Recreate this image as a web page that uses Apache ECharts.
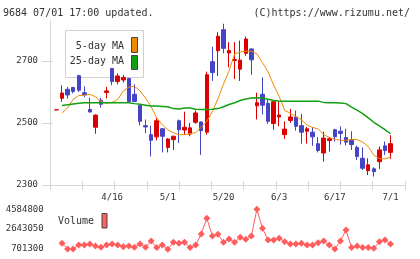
<!DOCTYPE html>
<html lang="ja">
<head>
<meta charset="UTF-8" />
<title>9684</title>
<script src="https://cdn.jsdelivr.net/npm/echarts@6/dist/echarts.min.js"></script>
<style>
  html, body { margin: 0; padding: 0; background: #fff; }
  #main { width: 420px; height: 259px; }
</style>
</head>
<body>
<div id="main"></div>
<script>
// x軸ラベル (61営業日, 空文字はラベルなし)
const dayLabels = [
  "", "", "", "", "", "", "", "", "", "",
  "4/16", "", "", "", "", "", "", "", "", "",
  "5/1", "", "", "", "", "", "", "", "", "",
  "5/20", "", "", "", "", "", "", "", "", "",
  "6/3", "", "", "", "", "", "", "", "", "",
  "6/17", "", "", "", "", "", "", "", "", "",
  "7/1"
];
// [open, close, low, high]
const ohlc = [
  [2542, 2542, 2542, 2542], [2579, 2596, 2568, 2621], [2608, 2590, 2578, 2616], [2614, 2601, 2595, 2616],
  [2652, 2605, 2600, 2655], [2597, 2590, 2583, 2618], [2543, 2535, 2534, 2581], [2486, 2525, 2465, 2527],
  [2573, 2560, 2549, 2581], [2598, 2603, 2579, 2616], [2675, 2633, 2621, 2677], [2633, 2651, 2624, 2659],
  [2638, 2646, 2630, 2654], [2643, 2568, 2567, 2645], [2592, 2569, 2568, 2624], [2556, 2505, 2492, 2557],
  [2491, 2487, 2467, 2511], [2462, 2444, 2392, 2491], [2455, 2507, 2444, 2516], [2481, 2457, 2405, 2483],
  [2421, 2448, 2405, 2451], [2446, 2457, 2413, 2459], [2507, 2478, 2435, 2511], [2477, 2486, 2462, 2536],
  [2464, 2484, 2457, 2500], [2502, 2532, 2497, 2540], [2503, 2475, 2397, 2505], [2470, 2655, 2462, 2665],
  [2697, 2662, 2635, 2745], [2732, 2779, 2651, 2792], [2800, 2740, 2724, 2819], [2725, 2733, 2679, 2760],
  [2701, 2704, 2641, 2760], [2673, 2702, 2635, 2765], [2724, 2770, 2716, 2778], [2738, 2703, 2655, 2740],
  [2555, 2565, 2511, 2597], [2592, 2557, 2527, 2646], [2563, 2505, 2497, 2576], [2498, 2568, 2478, 2572],
  [2519, 2525, 2489, 2568], [2462, 2480, 2448, 2505], [2508, 2519, 2500, 2545], [2519, 2489, 2475, 2540],
  [2491, 2470, 2433, 2529], [2473, 2481, 2433, 2487], [2470, 2455, 2426, 2487], [2433, 2411, 2405, 2454],
  [2403, 2451, 2375, 2472], [2443, 2449, 2408, 2454], [2478, 2455, 2440, 2481], [2473, 2466, 2430, 2489],
  [2453, 2438, 2427, 2481], [2444, 2430, 2413, 2473], [2421, 2392, 2381, 2427], [2386, 2354, 2348, 2421],
  [2346, 2365, 2332, 2386], [2352, 2343, 2327, 2357], [2375, 2413, 2352, 2424], [2426, 2411, 2397, 2440],
  [2405, 2433, 2384, 2460]
];
// 5日移動平均
const ma5 = [
  null, 2532, 2548, 2576, 2588, 2589, 2592, 2584, 2569, 2563,
  2566, 2575, 2603, 2615, 2618, 2603, 2580, 2552, 2516, 2494,
  2478, 2468, 2462, 2462, 2465, 2469, 2486, 2505, 2536, 2578,
  2625, 2668, 2722, 2728, 2731, 2731, 2722, 2694, 2664, 2622,
  2585, 2540, 2531, 2520, 2510, 2493, 2485, 2481, 2462, 2453,
  2447, 2444, 2444, 2447, 2446, 2438, 2424, 2396, 2385, 2384,
  2390
];
// 25日移動平均
const ma25 = [
  null, 2556, 2558, 2561, 2563, 2565, 2565, 2565, 2565, 2565,
  2565, 2565, 2565, 2565, 2562, 2560, 2557, 2554, 2554, 2553,
  2552, 2546, 2545, 2548, 2548, 2544, 2543, 2543, 2544, 2546,
  2552, 2559, 2565, 2572, 2577, 2580, 2581, 2580, 2576, 2572,
  2570, 2570, 2570, 2570, 2570, 2570, 2570, 2570, 2566, 2565,
  2565, 2564, 2562, 2551, 2541, 2530, 2516, 2502, 2490, 2478,
  2465
];
// 出来高
const volume = [
  null, 1260000, 700000, 700000, 1090000, 1090000, 1190000, 990000, 870000, 1090000,
  1190000, 1090000, 930000, 990000, 870000, 1190000, 870000, 1480000, 840000, 1090000,
  670000, 1360000, 1260000, 1360000, 840000, 1090000, 2170000, 3700000, 1970000, 2140000,
  1360000, 1680000, 1360000, 1840000, 1650000, 1970000, 4584800, 2730000, 1580000, 1580000,
  1750000, 1420000, 1190000, 1190000, 1260000, 1090000, 1090000, 1320000, 1480000, 1090000,
  700000, 1480000, 2560000, 840000, 990000, 840000, 840000, 770000, 1420000, 1580000,
  1190000
];
const priceTicks = [2300, 2500, 2700];
const volumeTicks = [701300, 2643050, 4584800];

const mono = '"DejaVu Sans Mono", monospace';
const gray = "#d6d6d6";
const upColor = "#dd0000";
const downColor = "#4444c4";
const plain = function (v) { return String(v); };

var myChart = echarts.init(document.getElementById("main"));
var option = {
  animation: false,
  grid: [
    { left: 50, right: 15, top: 21, bottom: 74 },        // 枠
    { left: 53.7, right: 26.7, top: 21, bottom: 74 },    // ローソク足
    { left: 53.7, right: 26.7, top: 209.3, bottom: 10 }, // 出来高
    { left: 50, right: 15, top: 21, bottom: 74 }         // 内向きの目盛り
  ],
  xAxis: [
    {
      gridIndex: 0, type: "value", min: 0, max: 11, interval: 1,
      axisLine: { lineStyle: { color: gray } },
      axisTick: { length: 5, lineStyle: { color: gray } },
      axisLabel: { show: false }, splitLine: { show: false }
    },
    {
      gridIndex: 1, type: "category", data: dayLabels,
      axisLine: { show: false }, axisTick: { show: false },
      axisLabel: { interval: 0, fontFamily: mono, fontSize: 9, color: "#333", margin: 8 }
    },
    { gridIndex: 2, type: "category", data: dayLabels, show: false },
    {
      gridIndex: 3, type: "value", min: 0, max: 11, interval: 1,
      axisLine: { show: false },
      axisTick: { inside: true, length: 4, lineStyle: { color: gray } },
      axisLabel: { show: false }, splitLine: { show: false }
    }
  ],
  yAxis: [
    {
      gridIndex: 0, type: "value", min: 2300, max: 2828,
      axisLine: { show: true, lineStyle: { color: gray } },
      axisTick: { show: true, length: 8, customValues: priceTicks, lineStyle: { color: gray } },
      axisLabel: { customValues: priceTicks, formatter: plain, fontFamily: mono, fontSize: 9, color: "#333", margin: 12 },
      splitLine: { show: false }
    },
    { gridIndex: 1, type: "value", min: 2300, max: 2828, show: false },
    {
      gridIndex: 2, type: "value", min: 701300, max: 4584800,
      axisLine: { show: false }, axisTick: { show: false }, splitLine: { show: false },
      axisLabel: { customValues: volumeTicks, formatter: plain, fontFamily: mono, fontSize: 9, color: "#333", margin: 10 }
    },
    {
      gridIndex: 3, type: "value", min: 2300, max: 2828,
      axisLine: { show: false },
      axisTick: { show: true, inside: true, length: 3, customValues: priceTicks, lineStyle: { color: gray } },
      axisLabel: { show: false }, splitLine: { show: false }
    }
  ],
  series: [
    {
      type: "candlestick", xAxisIndex: 1, yAxisIndex: 1, data: ohlc, barWidth: 4,
      itemStyle: {
        color: upColor, color0: downColor,
        borderColor: upColor, borderColor0: downColor, borderWidth: 1
      }
    },
    {
      type: "line", xAxisIndex: 1, yAxisIndex: 1, data: ma5, showSymbol: false,
      lineStyle: { color: "#f08a00", width: 1 }, z: 3
    },
    {
      type: "line", xAxisIndex: 1, yAxisIndex: 1, data: ma25, showSymbol: false,
      lineStyle: { color: "#12a012", width: 1.5 }, z: 3
    },
    {
      type: "line", xAxisIndex: 2, yAxisIndex: 2, data: volume, clip: false,
      symbol: "diamond", symbolSize: 7, showAllSymbol: true,
      itemStyle: { color: "#ff5c5c" }, lineStyle: { color: "#ff5c5c", width: 1 }
    }
  ],
  graphic: [
    { type: "text", x: 3, y: 13, style: { text: "9684 07/01 17:00 updated.", font: "10px " + mono, fill: "#333", textVerticalAlign: "middle" } },
    { type: "text", x: 410, y: 13, style: { text: "(C)https://www.rizumu.net/", font: "10px " + mono, fill: "#333", textAlign: "right", textVerticalAlign: "middle" } },
    // 凡例
    { type: "rect", z: 0, shape: { x: 65.5, y: 30.5, width: 78, height: 47 }, style: { fill: "#fff", stroke: "#d0d0d0", lineWidth: 1 } },
    { type: "text", z: 1, x: 124, y: 46.5, style: { text: "5-day MA", font: "10px " + mono, fill: "#333", textAlign: "right", textVerticalAlign: "middle" } },
    { type: "text", z: 1, x: 124, y: 61.5, style: { text: "25-day MA", font: "10px " + mono, fill: "#333", textAlign: "right", textVerticalAlign: "middle" } },
    { type: "rect", z: 1, shape: { x: 131.5, y: 37.5, width: 6, height: 15 }, style: { fill: "#f08a00", stroke: "#444", lineWidth: 1 } },
    { type: "rect", z: 1, shape: { x: 131.5, y: 55.5, width: 6, height: 14 }, style: { fill: "#12a012", stroke: "#444", lineWidth: 1 } },
    { type: "text", z: 1, x: 58, y: 221.7, style: { text: "Volume", font: "10px " + mono, fill: "#333", textVerticalAlign: "middle" } },
    { type: "rect", z: 1, shape: { x: 102, y: 213.5, width: 5, height: 14.5 }, style: { fill: "#ff6060", stroke: "#444", lineWidth: 1 } }
  ]
};
option && myChart.setOption(option);
</script>
</body>
</html>
